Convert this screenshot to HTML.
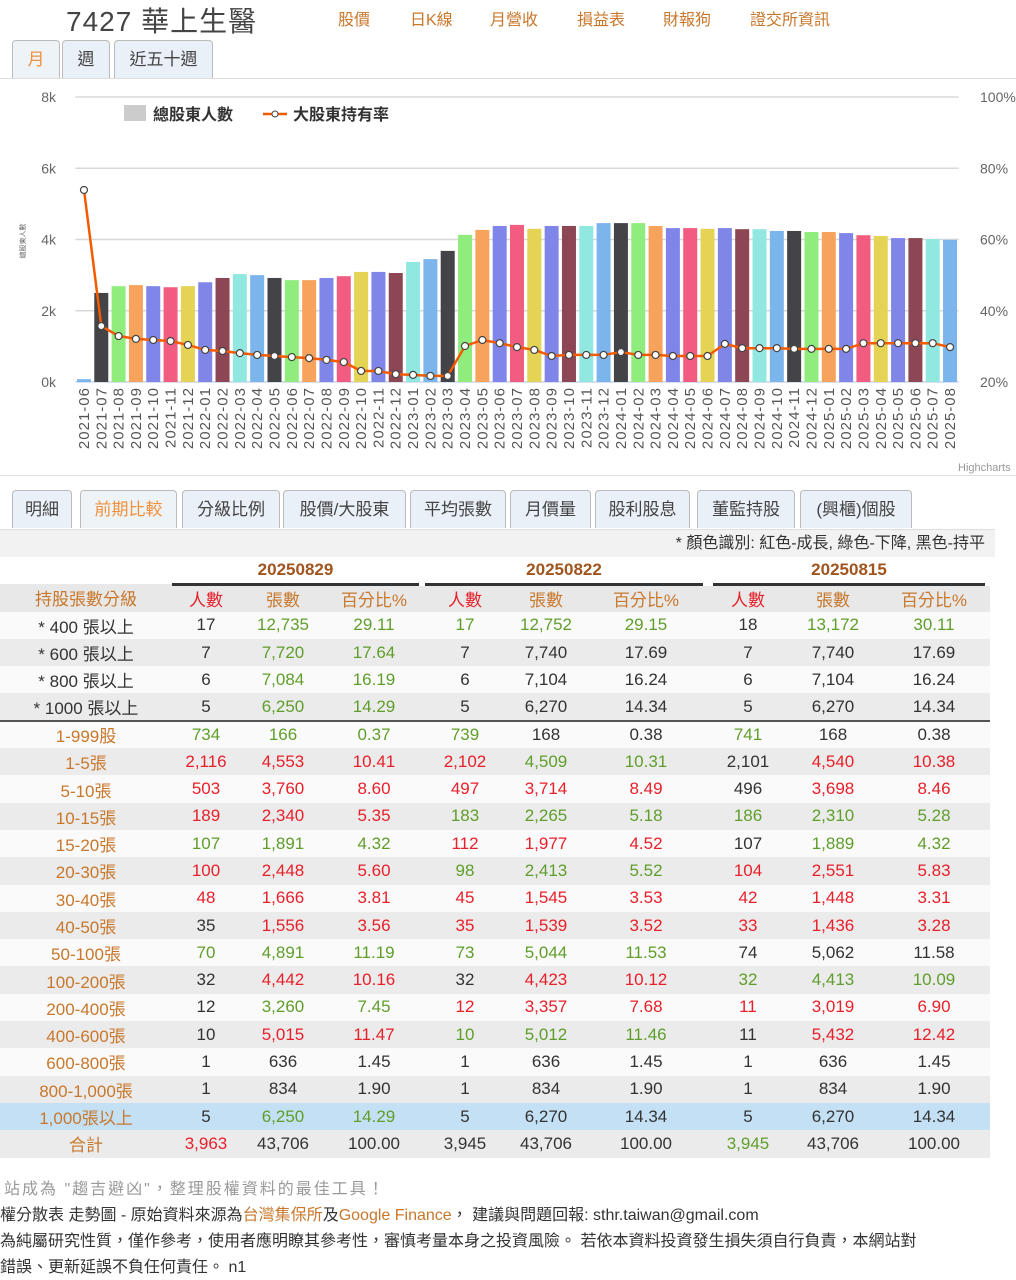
<!DOCTYPE html>
<html><head><meta charset="utf-8">
<style>
*{box-sizing:border-box;margin:0;padding:0}
body{width:1016px;height:1280px;overflow:hidden;background:#fff;font-family:"Liberation Sans","Noto Sans CJK TC",sans-serif;color:#333;position:relative}
.abs{position:absolute}
.title{left:66px;top:0;font-size:28px;color:#444;letter-spacing:1px}
.nav{top:6px;font-size:16px;color:#c8772b}
.tab{position:absolute;height:38px;border:1px solid #bbb;border-bottom:none;border-radius:4px 4px 0 0;background:#e9f0f7;font-size:17px;color:#444;text-align:center;line-height:38px}
.tab.act{color:#f0903a;background:#eef3f8}
#chart{left:0;top:78px;width:1016px;height:398px;border-top:1px solid #ddd;border-bottom:1px solid #ddd}
table{position:absolute;left:0;top:557px;width:995px;border-collapse:collapse;font-size:17px}
td{height:27.3px;text-align:center;padding:0;white-space:nowrap}
tr.r0 td{background:#fafafa}
tr.r1 td{background:#ebebeb}
tr.blue td{background:#c4e0f4}
td.lab{color:#c8772b;width:172px}
.g{color:#5f9e2a}.r{color:#e8202a}.k{color:#333}
.foot{left:4px;font-size:16px;color:#333}
</style></head><body>
<div class="abs title">7427 華上生醫</div>
<div class="abs nav" style="left:338px">股價</div>
<div class="abs nav" style="left:410px">日K線</div>
<div class="abs nav" style="left:490px">月營收</div>
<div class="abs nav" style="left:577px">損益表</div>
<div class="abs nav" style="left:663px">財報狗</div>
<div class="abs nav" style="left:750px">證交所資訊</div>

<div class="tab act" style="left:12px;top:40px;width:48px">月</div>
<div class="tab" style="left:62px;top:40px;width:48px">週</div>
<div class="tab" style="left:114px;top:40px;width:99px">近五十週</div>

<div id="chart" class="abs">
<svg id="svg" width="1016" height="398" viewBox="0 78 1016 398" xmlns="http://www.w3.org/2000/svg" font-family="Liberation Sans, Noto Sans CJK TC, sans-serif"></svg>
</div>

<div class="tab" style="left:12px;top:490px;width:60px">明細</div>
<div class="tab act" style="left:80px;top:490px;width:97px">前期比較</div>
<div class="tab" style="left:182px;top:490px;width:98px">分級比例</div>
<div class="tab" style="left:283px;top:490px;width:123px">股價/大股東</div>
<div class="tab" style="left:410px;top:490px;width:96px">平均張數</div>
<div class="tab" style="left:510px;top:490px;width:81px">月價量</div>
<div class="tab" style="left:595px;top:490px;width:95px">股利股息</div>
<div class="tab" style="left:697px;top:490px;width:98px">董監持股</div>
<div class="tab" style="left:800px;top:490px;width:112px">(興櫃)個股</div>
<div class="abs" style="left:0;top:529px;width:995px;height:28px;background:#f2f2f2;border-top:1px solid #ddd;text-align:right;padding-right:10px;font-size:16px;line-height:28px">* 顏色識別: 紅色-成長, 綠色-下降, 黑色-持平</div>

<table id="tbl">
<tr style="background:#fff"><td></td>
<td colspan="3" style="font-weight:bold;color:#a0541e;border-bottom:3px solid #333">20250829</td>
<td colspan="3" style="font-weight:bold;color:#a0541e;border-bottom:3px solid #333;border-left:6px solid #fff">20250822</td>
<td colspan="3" style="font-weight:bold;color:#a0541e;border-bottom:3px solid #333;border-left:10px solid #fff;border-right:10px solid #fff">20250815</td></tr>
<tr style="background:#e8e8e8"><td class="lab">持股張數分級</td><td class="r" style="width:68px">人數</td><td style="color:#c8772b;width:86px">張數</td><td style="color:#c8772b;width:96px">百分比%</td><td class="r" style="width:86px">人數</td><td style="color:#c8772b;width:76px">張數</td><td style="color:#c8772b;width:124px">百分比%</td><td class="r" style="width:80px">人數</td><td style="color:#c8772b;width:90px">張數</td><td style="color:#c8772b">百分比%</td></tr>
</table>

<div class="abs foot" style="top:1175px;color:#999;letter-spacing:2px">站成為 "趨吉避凶"，整理股權資料的最佳工具！</div>
<div class="abs foot" style="left:0;top:1201px">權分散表 走勢圖 - 原始資料來源為<span style="color:#c8772b">台灣集保所</span>及<span style="color:#c8772b">Google Finance</span>， 建議與問題回報: sthr.taiwan@gmail.com</div>
<div class="abs foot" style="left:0;top:1227px">為純屬研究性質，僅作參考，使用者應明瞭其參考性，審慎考量本身之投資風險。 若依本資料投資發生損失須自行負責，本網站對</div>
<div class="abs foot" style="left:0;top:1253px">錯誤、更新延誤不負任何責任。 n1</div>

<script>
const categories=["2021-06","2021-07","2021-08","2021-09","2021-10","2021-11","2021-12","2022-01","2022-02","2022-03","2022-04","2022-05","2022-06","2022-07","2022-08","2022-09","2022-10","2022-11","2022-12","2023-01","2023-02","2023-03","2023-04","2023-05","2023-06","2023-07","2023-08","2023-09","2023-10","2023-11","2023-12","2024-01","2024-02","2024-03","2024-04","2024-05","2024-06","2024-07","2024-08","2024-09","2024-10","2024-11","2024-12","2025-01","2025-02","2025-03","2025-04","2025-05","2025-06","2025-07","2025-08"];
const holders=[80,2500,2690,2720,2690,2660,2690,2800,2920,3030,3000,2920,2860,2860,2920,2970,3090,3090,3060,3370,3450,3680,4130,4270,4380,4410,4300,4380,4380,4380,4460,4460,4460,4380,4320,4320,4300,4320,4290,4290,4240,4240,4210,4210,4180,4120,4100,4040,4040,4010,3990];
const majorPct=[73.9,35.7,32.9,32.1,31.8,31.5,30.4,29.0,28.7,28.1,27.6,27.3,27.0,26.7,26.2,25.6,23.1,23.1,22.2,22.0,21.7,21.7,30.1,31.8,30.9,29.8,29.0,27.3,27.6,27.6,27.6,28.4,27.6,27.6,27.3,27.3,27.3,30.7,29.5,29.5,29.5,29.3,29.3,29.3,29.3,30.9,30.9,30.9,30.9,30.9,29.8];
const leftTicks=["0k","2k","4k","6k","8k"];
const leftTickVals=[0,2000,4000,6000,8000];
const rightTicks=["20%","40%","60%","80%","100%"];
const rightTickVals=[20,40,60,80,100];
const palette=["#7cb5ec","#434348","#90ed7d","#f7a35c","#8085e9","#f15c80","#e4d354","#8085e8","#8d4653","#91e8e1"];

const NS="http://www.w3.org/2000/svg";
const svg=document.getElementById('svg');
const X0=75.3,X1=958.7,Y0=381,Y1=96;
const step=(X1-X0)/categories.length;
const xPos=i=>X0+step*(i+0.5);
const yL=v=>Y0-(v/8000)*(Y0-Y1);
const yR=v=>Y0-((v-20)/80)*(Y0-Y1);
function mk(tag,attrs,txt){const e=document.createElementNS(NS,tag);for(const k in attrs)e.setAttribute(k,attrs[k]);if(txt!==undefined)e.textContent=txt;svg.appendChild(e);return e;}

leftTickVals.forEach((v,i)=>{
  const g=mk('line',{x1:X0,x2:X1,y1:yL(v),y2:yL(v),stroke:i===0?'#ccd6eb':'#d8d8d8','stroke-width':1.5});
  
  
  const t=mk('text',{x:56,y:yL(v)+5,'text-anchor':'end','font-size':14,fill:'#666'},leftTicks[i]);
  
  
});
rightTickVals.forEach((v,i)=>{
  const t=mk('text',{x:980,y:yR(v)+5,'font-size':14,fill:'#666'},rightTicks[i]);
  
  
});
const yt=mk('text',{x:0,y:0,'font-size':7,fill:'#666','text-anchor':'middle',transform:'translate(25,240) rotate(-90)'},'總股東人數');



holders.forEach((v,i)=>{
  const b=mk('rect',{x:xPos(i)-7,y:yL(v),width:14,height:Y0-yL(v),fill:palette[i%palette.length]});
  
  
});
categories.forEach((c,i)=>{
  const t=mk('text',{x:0,y:0,'font-size':15,fill:'#555','letter-spacing':'1','text-anchor':'end',transform:`translate(${xPos(i)+5},386) rotate(-90)`},c);
  
  
});
const pts=majorPct.map((v,i)=>xPos(i).toFixed(1)+','+yR(v).toFixed(1)).join(' ');
const ln=mk('polyline',{points:pts,fill:'none',stroke:'#f45b00','stroke-width':2.5});


majorPct.forEach((v,i)=>{
  const c=mk('circle',{cx:xPos(i),cy:yR(v),r:3.5,fill:'#fff',stroke:'#444','stroke-width':1.2});
  
  
});
// legend
const lr=mk('rect',{x:124,y:104,width:22,height:16,fill:'#ccc'});


const l1=mk('text',{x:153,y:119,'font-size':16,'font-weight':'bold',fill:'#333'},'總股東人數');


const ll=mk('line',{x1:263,x2:287,y1:113,y2:113,stroke:'#f45b00','stroke-width':2.5});


const lc=mk('circle',{cx:275,cy:113,r:3,fill:'#fff',stroke:'#444'});


const l2=mk('text',{x:293,y:119,'font-size':16,'font-weight':'bold',fill:'#333'},'大股東持有率');


const hc=mk('text',{x:958,y:470,'font-size':11,fill:'#999'},'Highcharts');



// table rows: label, then 9 cells "value:color"
const rows=[
["* 400 張以上","17:k","12,735:g","29.11:g","17:g","12,752:g","29.15:g","18:k","13,172:g","30.11:g"],
["* 600 張以上","7:k","7,720:g","17.64:g","7:k","7,740:k","17.69:k","7:k","7,740:k","17.69:k"],
["* 800 張以上","6:k","7,084:g","16.19:g","6:k","7,104:k","16.24:k","6:k","7,104:k","16.24:k"],
["* 1000 張以上","5:k","6,250:g","14.29:g","5:k","6,270:k","14.34:k","5:k","6,270:k","14.34:k"],
["1-999股","734:g","166:g","0.37:g","739:g","168:k","0.38:k","741:g","168:k","0.38:k"],
["1-5張","2,116:r","4,553:r","10.41:r","2,102:r","4,509:g","10.31:g","2,101:k","4,540:r","10.38:r"],
["5-10張","503:r","3,760:r","8.60:r","497:r","3,714:r","8.49:r","496:k","3,698:r","8.46:r"],
["10-15張","189:r","2,340:r","5.35:r","183:g","2,265:g","5.18:g","186:g","2,310:g","5.28:g"],
["15-20張","107:g","1,891:g","4.32:g","112:r","1,977:r","4.52:r","107:k","1,889:g","4.32:g"],
["20-30張","100:r","2,448:r","5.60:r","98:g","2,413:g","5.52:g","104:r","2,551:r","5.83:r"],
["30-40張","48:r","1,666:r","3.81:r","45:r","1,545:r","3.53:r","42:r","1,448:r","3.31:r"],
["40-50張","35:k","1,556:r","3.56:r","35:r","1,539:r","3.52:r","33:r","1,436:r","3.28:r"],
["50-100張","70:g","4,891:g","11.19:g","73:g","5,044:g","11.53:g","74:k","5,062:k","11.58:k"],
["100-200張","32:k","4,442:r","10.16:r","32:k","4,423:r","10.12:r","32:g","4,413:g","10.09:g"],
["200-400張","12:k","3,260:g","7.45:g","12:r","3,357:r","7.68:r","11:r","3,019:r","6.90:r"],
["400-600張","10:k","5,015:r","11.47:r","10:g","5,012:g","11.46:g","11:k","5,432:r","12.42:r"],
["600-800張","1:k","636:k","1.45:k","1:k","636:k","1.45:k","1:k","636:k","1.45:k"],
["800-1,000張","1:k","834:k","1.90:k","1:k","834:k","1.90:k","1:k","834:k","1.90:k"],
["1,000張以上","5:k","6,250:g","14.29:g","5:k","6,270:k","14.34:k","5:k","6,270:k","14.34:k"],
["合計","3,963:r","43,706:k","100.00:k","3,945:k","43,706:k","100.00:k","3,945:g","43,706:k","100.00:k"]
];
const tbl=document.getElementById('tbl');
rows.forEach((r,i)=>{
  const tr=document.createElement('tr');
  tr.className=(i===18)?'blue':((i<4?i:i-4)%2===0?'r0':'r1');
  if(i===19)tr.className='r1';
  
  
  const lab=document.createElement('td');
  lab.className='lab';
  if(i<4)lab.style.color='#333';
  lab.textContent=r[0];
  tr.appendChild(lab);
  for(let j=1;j<10;j++){
    const [v,c]=r[j].split(':');
    const td=document.createElement('td');
    td.className=c;td.textContent=v;
    tr.appendChild(td);
  }
  if(i===4)tr.querySelectorAll('td').forEach(t=>t.style.borderTop='2px solid #555');
  tbl.appendChild(tr);
});
</script>
</body></html>
